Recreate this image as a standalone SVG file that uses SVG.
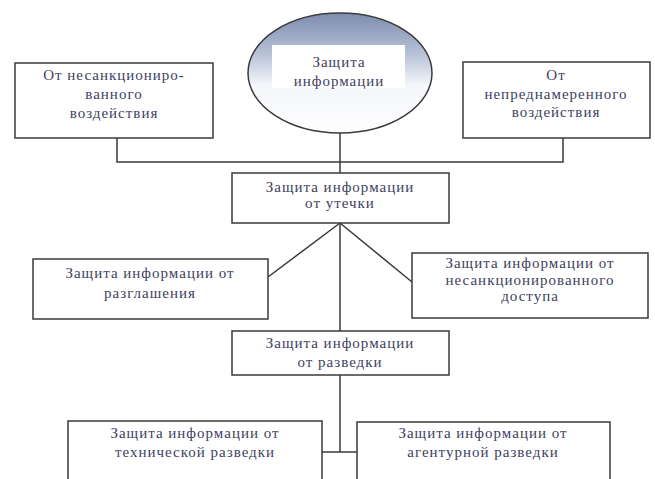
<svg xmlns="http://www.w3.org/2000/svg" width="655" height="479" viewBox="0 0 655 479">
<defs>
<linearGradient id="eg" x1="0" y1="0" x2="0" y2="1">
<stop offset="0" stop-color="#7d8cae"/>
<stop offset="0.35" stop-color="#b9c3d8"/>
<stop offset="0.6" stop-color="#f4f6fa"/>
<stop offset="1" stop-color="#ffffff"/>
</linearGradient>
<style>
.box{fill:#fff;stroke:#3a3a3a;stroke-width:1.5}
.ln{fill:none;stroke:#3a3a3a;stroke-width:1.5}
text{font-family:"Liberation Serif","DejaVu Serif",serif;font-size:15px;fill:#3d4160;text-anchor:middle;letter-spacing:1px}
</style>
</defs>
<rect width="655" height="479" fill="#fff"/>
<g id="connectors">
<polyline class="ln" points="117,138 117,162 563,162 563,138"/>
<line class="ln" x1="340" y1="133" x2="340" y2="173"/>
<line class="ln" x1="340" y1="223" x2="268" y2="277"/>
<line class="ln" x1="340" y1="223" x2="412" y2="282"/>
<line class="ln" x1="340" y1="223" x2="340" y2="331"/>
<line class="ln" x1="340" y1="375" x2="340" y2="452"/>
<line class="ln" x1="322" y1="452" x2="357" y2="452"/>
</g>
<g id="root">
<ellipse cx="340" cy="73" rx="92" ry="60" fill="url(#eg)" stroke="#3a3a3a" stroke-width="1.5"/>
<rect x="272" y="45" width="133" height="43" fill="#fff"/>
<text x="339" y="67">Защита</text>
<text x="339" y="86">информации</text>
</g>
<g id="unauth">
<rect class="box" x="15" y="63" width="198" height="75"/>
<text x="114" y="80">От несанкциониро-</text>
<text x="114" y="99">ванного</text>
<text x="114" y="118">воздействия</text>
</g>
<g id="unintent">
<rect class="box" x="463" y="62" width="187" height="76"/>
<text x="556" y="80">От</text>
<text x="556" y="99">непреднамеренного</text>
<text x="556" y="117">воздействия</text>
</g>
<g id="leak">
<rect class="box" x="232" y="173" width="217" height="50"/>
<text x="340" y="192">Защита информации</text>
<text x="340" y="208">от утечки</text>
</g>
<g id="disclosure">
<rect class="box" x="33" y="259" width="235" height="60"/>
<text x="150" y="278">Защита информации от</text>
<text x="150" y="298">разглашения</text>
</g>
<g id="access">
<rect class="box" x="412" y="253" width="236" height="65"/>
<text x="530" y="268">Защита информации от</text>
<text x="530" y="285">несанкционированного</text>
<text x="530" y="301">доступа</text>
</g>
<g id="intel">
<rect class="box" x="232" y="331" width="217" height="44"/>
<text x="340" y="348">Защита информации</text>
<text x="340" y="367">от разведки</text>
</g>
<g id="tech">
<rect class="box" x="68" y="421" width="254" height="70"/>
<text x="195" y="438">Защита информации от</text>
<text x="195" y="457">технической разведки</text>
</g>
<g id="agent">
<rect class="box" x="357" y="422" width="253" height="70"/>
<text x="483" y="438">Защита информации от</text>
<text x="483" y="457">агентурной разведки</text>
</g>
</svg>
